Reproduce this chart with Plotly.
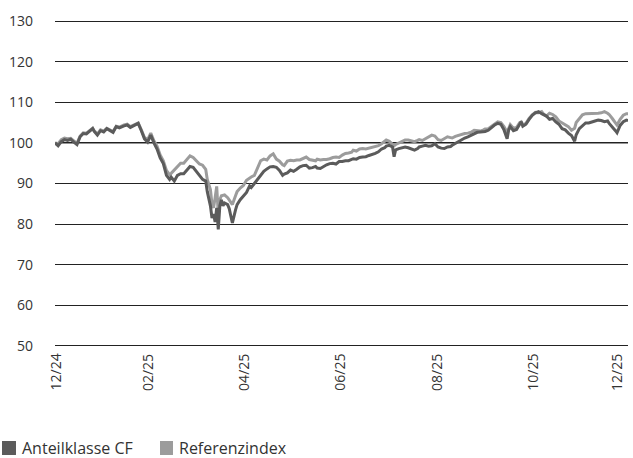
import plotly.graph_objects as go

dates = [
    "2024-12-31", "2025-01-02", "2025-01-04", "2025-01-06", "2025-01-08", "2025-01-10", "2025-01-12", "2025-01-14",
    "2025-01-16", "2025-01-18", "2025-01-20", "2025-01-22", "2025-01-24", "2025-01-25", "2025-01-27", "2025-01-29",
    "2025-01-31", "2025-02-02", "2025-02-04", "2025-02-06", "2025-02-08", "2025-02-10", "2025-02-13", "2025-02-15",
    "2025-02-17", "2025-02-19", "2025-02-21", "2025-02-22", "2025-02-24", "2025-02-26", "2025-02-28", "2025-03-02",
    "2025-03-04", "2025-03-06", "2025-03-08", "2025-03-10", "2025-03-12", "2025-03-14", "2025-03-15", "2025-03-17",
    "2025-03-19", "2025-03-21", "2025-03-23", "2025-03-25", "2025-03-27", "2025-03-29", "2025-03-31", "2025-04-02",
    "2025-04-04", "2025-04-06", "2025-04-07", "2025-04-09", "2025-04-10", "2025-04-11", "2025-04-12", "2025-04-13",
    "2025-04-14", "2025-04-15", "2025-04-16", "2025-04-17", "2025-04-18", "2025-04-20", "2025-04-21", "2025-04-22",
    "2025-04-23", "2025-04-25", "2025-04-26", "2025-04-28", "2025-04-30", "2025-05-02", "2025-05-04", "2025-05-05",
    "2025-05-07", "2025-05-09", "2025-05-11", "2025-05-13", "2025-05-15", "2025-05-17", "2025-05-19", "2025-05-21",
    "2025-05-23", "2025-05-25", "2025-05-26", "2025-05-28", "2025-05-30", "2025-06-01", "2025-06-03", "2025-06-05",
    "2025-06-07", "2025-06-09", "2025-06-11", "2025-06-13", "2025-06-15", "2025-06-16", "2025-06-18", "2025-06-20",
    "2025-06-22", "2025-06-24", "2025-06-26", "2025-06-28", "2025-06-30", "2025-07-02", "2025-07-04", "2025-07-06",
    "2025-07-08", "2025-07-09", "2025-07-11", "2025-07-13", "2025-07-15", "2025-07-17", "2025-07-19", "2025-07-21",
    "2025-07-23", "2025-07-25", "2025-07-27", "2025-07-29", "2025-07-30", "2025-08-01", "2025-08-03", "2025-08-04",
    "2025-08-05", "2025-08-07", "2025-08-09", "2025-08-11", "2025-08-13", "2025-08-15", "2025-08-17", "2025-08-19",
    "2025-08-20", "2025-08-22", "2025-08-24", "2025-08-26", "2025-08-28", "2025-08-30", "2025-09-01", "2025-09-03",
    "2025-09-05", "2025-09-07", "2025-09-09", "2025-09-10", "2025-09-12", "2025-09-14", "2025-09-16", "2025-09-18",
    "2025-09-20", "2025-09-22", "2025-09-24", "2025-09-26", "2025-09-28", "2025-09-30", "2025-10-01", "2025-10-03",
    "2025-10-05", "2025-10-07", "2025-10-09", "2025-10-11", "2025-10-13", "2025-10-15", "2025-10-16", "2025-10-17",
    "2025-10-19", "2025-10-21", "2025-10-23", "2025-10-24", "2025-10-25", "2025-10-27", "2025-10-29", "2025-10-31",
    "2025-11-02", "2025-11-04", "2025-11-06", "2025-11-07", "2025-11-09", "2025-11-11", "2025-11-13", "2025-11-15",
    "2025-11-17", "2025-11-19", "2025-11-21", "2025-11-23", "2025-11-25", "2025-11-27", "2025-11-28", "2025-11-30",
    "2025-12-02", "2025-12-04", "2025-12-06", "2025-12-08", "2025-12-10", "2025-12-12", "2025-12-14", "2025-12-16",
    "2025-12-18", "2025-12-19", "2025-12-21", "2025-12-23", "2025-12-24", "2025-12-26", "2025-12-28", "2025-12-30",
    "2025-12-31",
]

anteilklasse_cf = [
    100.0, 99.3, 100.3, 100.8, 100.6, 100.9, 100.2, 99.6,
    101.5, 102.3, 102.2, 102.9, 103.5, 102.8, 101.9, 103.0,
    102.7, 103.5, 103.0, 102.6, 104.0, 103.7, 104.2, 104.4,
    103.8, 104.2, 104.5, 104.8, 103.0, 101.0, 100.2, 101.9,
    100.0, 98.5, 96.3, 94.9, 92.0, 91.0, 91.6, 90.6,
    92.0, 92.4, 92.4, 93.4, 94.2, 94.0, 93.0, 91.8,
    91.0, 90.6, 88.0, 84.5, 81.5, 82.5, 80.5, 84.0,
    78.7, 84.5, 86.0, 84.5, 85.2, 84.8, 83.8, 82.0,
    80.3, 83.5, 84.8, 86.0, 87.0, 87.8, 89.4, 89.0,
    90.0, 91.0, 91.8, 93.0, 93.6, 94.1, 94.2, 94.0,
    93.2, 92.0, 92.3, 92.6, 93.3, 93.0, 93.5, 94.1,
    94.4, 94.5, 93.8, 93.9, 94.2, 93.8, 93.7, 94.2,
    94.6, 94.9, 95.0, 94.8, 95.4, 95.4, 95.6, 95.6,
    95.9, 96.1, 96.0, 96.4, 96.5, 96.6, 96.9, 97.1,
    97.4, 97.8, 98.5, 98.8, 99.2, 99.4, 99.0, 96.6,
    98.3, 98.6, 98.8, 99.0, 98.8, 98.4, 98.2, 98.6,
    99.0, 99.2, 99.4, 99.2, 99.3, 99.8, 99.0, 98.7,
    98.6, 99.0, 99.1, 99.4, 99.9, 100.2, 100.8, 101.2,
    101.5, 101.9, 102.3, 102.6, 102.7, 102.7, 102.8, 103.1,
    103.8, 104.4, 104.8, 104.6, 103.2, 101.0, 103.2, 104.0,
    103.0, 103.3, 104.6, 105.2, 104.1, 104.6, 105.8, 106.8,
    107.4, 107.7, 107.2, 107.0, 106.6, 105.8, 106.0, 105.2,
    104.6, 103.5, 103.2, 102.4, 101.8, 100.4, 102.0, 103.5,
    104.3, 104.9, 104.9, 105.2, 105.4, 105.6, 105.5, 105.2,
    105.4, 104.8, 104.0, 103.0, 102.5, 104.3, 105.2, 105.6,
    105.5,
]

referenzindex = [
    100.0, 99.8, 100.8, 101.2, 101.0, 101.1, 100.5, 99.9,
    101.7, 102.5, 102.4, 103.0, 103.6, 103.0, 102.2, 103.2,
    102.9, 103.6, 103.2, 102.8, 104.1, 103.9, 104.4, 104.6,
    104.0, 104.3, 104.6, 104.9, 103.2, 101.3, 100.8, 102.4,
    100.5, 99.2, 97.0, 95.6, 93.2, 92.2, 92.5, 93.3,
    94.0, 95.0, 95.0, 96.0, 96.8, 96.4, 95.5, 94.8,
    94.5, 93.5, 91.0, 88.5, 85.0, 84.0, 86.5, 89.3,
    82.5, 86.0, 87.0, 87.2, 87.2, 86.5, 86.0, 85.2,
    84.8, 87.0, 88.0, 88.9, 89.5, 90.8, 91.4, 91.6,
    92.0, 94.0, 95.6, 96.0, 95.8, 96.8, 97.3, 96.0,
    95.5, 94.6, 94.4, 95.5, 95.7, 95.6, 95.8, 95.8,
    96.2, 96.5, 95.9, 95.7, 95.6, 96.0, 95.8, 95.9,
    95.9, 96.1, 96.4, 96.5, 96.4, 97.0, 97.4, 97.5,
    97.7, 98.2, 98.0, 98.5, 98.6, 98.5, 98.7, 98.8,
    99.0, 99.3, 99.8, 100.3, 100.7, 100.4, 99.8, 99.3,
    99.6, 100.0, 100.3, 100.7, 100.7, 100.5, 100.3, 100.6,
    100.8, 100.6, 101.0, 101.4, 101.9, 101.7, 100.8, 100.6,
    101.0, 101.5, 101.3, 101.2, 101.6, 101.9, 102.2, 102.3,
    102.4, 102.6, 103.1, 103.0, 102.9, 103.2, 103.4, 103.5,
    104.0, 104.7, 105.2, 105.0, 104.0, 102.6, 103.8, 104.5,
    103.6, 103.8, 105.0, 105.2, 104.4, 104.8, 106.0, 106.9,
    107.5, 107.4, 107.7, 107.2, 106.6, 107.3, 107.0, 106.4,
    105.4, 105.0, 104.5, 104.0, 103.1, 103.6, 105.0, 106.0,
    106.9, 107.2, 107.2, 107.3, 107.2, 107.3, 107.4, 107.7,
    107.3, 107.0, 106.0, 105.0, 104.4, 105.8, 106.8, 107.2,
    107.2,
]

tick_dates = ["2024-12-31", "2025-02-28", "2025-04-30", "2025-06-30", "2025-08-31", "2025-10-31", "2025-12-31"]
tick_labels = ["12/24", "02/25", "04/25", "06/25", "08/25", "10/25", "12/25"]
y_ticks = [50, 60, 70, 80, 90, 100, 110, 120, 130]
base_value = 100

names = ["Anteilklasse CF", "Referenzindex"]
colors = ["#5b5b5b", "#9c9c9c"]

FONT = "Open Sans, sans-serif"
TXT = "#333333"

fig = go.Figure()
fig.add_trace(go.Scatter(x=dates, y=referenzindex, mode="lines", name=names[1],
                         line=dict(color=colors[1], width=3)))
fig.add_trace(go.Scatter(x=dates, y=anteilklasse_cf, mode="lines", name=names[0],
                         line=dict(color=colors[0], width=3)))

# base-100 line in a lighter grey
fig.add_shape(type="line", xref="paper", x0=0, x1=1, yref="y", y0=base_value, y1=base_value,
              line=dict(color="#707070", width=1.5), layer="between")

annotations = []
# x-axis labels, rotated, centred on their month-end dates (last one kept inside the page)
for i, (d, t) in enumerate(zip(tick_dates, tick_labels)):
    annotations.append(dict(x=d, y=0, xref="x", yref="paper", text=t, showarrow=False,
                            textangle=-90, xanchor="right" if i == len(tick_dates) - 1 else "center",
                            yanchor="top", yshift=-4, font=dict(family=FONT, size=14, color=TXT)))

# legend below the chart: square swatch + label
legend_swatch_x = [(-0.0925, -0.0681), (0.1832, 0.2059)]
legend_text_x = [-0.0611, 0.2129]
for n, c, (sx0, sx1), tx in zip(names, colors, legend_swatch_x, legend_text_x):
    fig.add_shape(type="rect", xref="paper", yref="paper", x0=sx0, x1=sx1, y0=-0.3252, y1=-0.2827,
                  fillcolor=c, line=dict(width=0), layer="above")
    annotations.append(dict(x=tx, y=-0.304, xref="paper", yref="paper", xanchor="left", yanchor="middle",
                            showarrow=False, text=n, font=dict(family=FONT, size=16, color=TXT)))

fig.update_layout(
    width=633, height=458,
    margin=dict(l=55, r=5, t=19, b=110),
    plot_bgcolor="white", paper_bgcolor="white",
    font=dict(family=FONT, size=14, color=TXT),
    showlegend=False,
    annotations=annotations,
    xaxis=dict(range=["2024-12-31", "2025-12-31"], tickvals=tick_dates, showticklabels=False,
               showgrid=False, zeroline=False, showline=False, ticks="", automargin=False),
    yaxis=dict(range=[49.5, 130.5], tickvals=y_ticks, showgrid=True, gridcolor="#222222",
               gridwidth=1.3, zeroline=False, showline=False, ticks="", ticklabelstandoff=21,
               automargin=False),
)

fig.write_html("out.html", config={"displayModeBar": False},
               post_script="document.body.style.margin='0';document.body.style.overflow='hidden';")
